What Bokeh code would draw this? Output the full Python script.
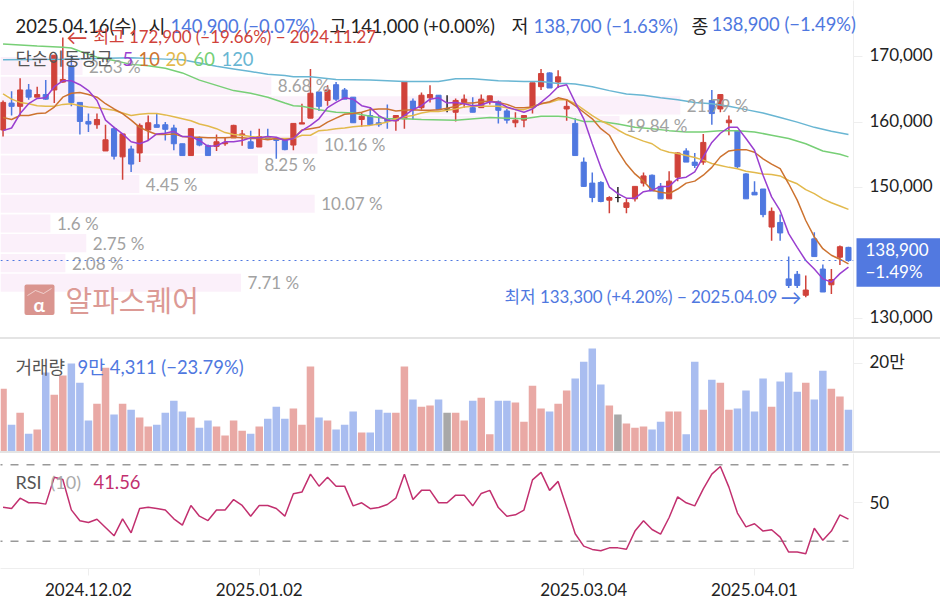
from bokeh.plotting import figure
from bokeh.layouts import column
from bokeh.core.properties import value
from bokeh.models import (Range1d, LinearAxis, FixedTicker, Label, Span, BoxAnnotation,
                          ColumnDataSource, Spacer, PolyAnnotation)
from bokeh.embed import file_html
from bokeh.resources import INLINE
import numpy as np

# ---- data (oldest bar first, 100 daily bars, last = 2025.04.16) ----
opens = [158800,162900,162400,164900,163800,164200,164900,166100,168600,163000,160100,159600,155600,159000,154700,155900,155300,158800,159600,159600,159100,156700,154900,157500,156400,156300,156700,157600,158000,157000,156200,157800,157500,157200,156500,
         159700,160600,164600,163300,165700,164900,163800,160400,161000,159900,160500,160200,160500,163200,162200,163700,164100,162000,161500,163000,162200,162200,163300,163100,161700,159900,160300,162200,165400,167500,166100,
         162000,159800,153900,150700,150800,148100,148500,147000,148300,150700,151900,150200,148300,151600,155600,153900,153900,163300,162000,159900,158700,152100,149300,149800,144000,144700,136100,136800,133600,142200,137600,135200,139400,140900]
highs = [163300,164700,166700,165800,165400,166400,170200,172900,170200,163000,161300,161300,159600,159300,158200,156400,159800,161000,161400,160000,159600,156700,159100,157800,156600,158100,157600,159600,158800,158700,159000,159000,157700,157500,159800,
         162800,168100,164600,165600,166100,165200,163800,161400,162300,160900,162700,161000,166200,163600,164500,165600,164100,164100,163600,164200,163800,164200,164000,163300,162000,161500,161000,166000,168100,167600,167900,
         163500,160600,154600,152300,151000,148700,150100,148300,150200,152300,152000,150700,152500,155400,156000,155300,158200,164900,164200,161000,158700,152200,151000,149800,147000,145900,139500,137300,136600,143200,138300,137600,141200,141000]
lows = [157800,161000,161000,163400,163800,163400,162900,166000,162400,158100,158500,159000,155600,154300,151200,152400,153900,157200,159200,157200,155700,154900,154900,156300,154900,155600,156400,157600,156400,156000,156200,157400,154400,155700,155700,
        159700,160600,161700,162500,163200,163500,159900,159300,159600,159300,159000,158700,159000,160400,161900,163000,161900,161500,160100,162200,161500,162200,162700,159800,159800,159200,159200,161300,164900,165200,165200,
        160200,154900,150100,147800,147800,146100,147800,146100,147900,150200,149500,148300,148300,151000,153900,153000,153500,159600,161500,158000,153000,148300,148900,145500,141900,141900,134700,134700,133300,139500,134100,133800,138200,138700]
closes = [163000,162400,164900,163800,164200,163500,170200,166500,163000,160100,159700,160400,157300,154800,158200,153600,159500,159900,159200,158900,156700,154900,159000,156500,154900,157000,156900,159500,158200,156000,157800,157500,157200,155800,159800,
          159900,164400,162400,164900,163500,163500,159900,160900,159600,159600,160100,161000,166200,161900,164100,164200,161900,162000,163300,163500,161500,163500,164000,161800,160300,160300,161000,166000,167400,165200,166900,
          162400,154900,150200,148500,147900,148500,148500,147700,150200,151800,149500,148300,151000,155300,153900,153400,156900,161300,164200,160300,153200,148300,148900,145900,146400,143100,135100,135100,134400,139500,134100,136000,141000,138900]
ma5 = [158700,159100,161300,162800,163600,163700,165400,166300,166300,165700,164800,163300,160300,159200,158200,157000,156700,157200,158200,158300,158600,157800,157800,157200,156300,156400,157000,157000,157200,157600,157600,157800,157700,157200,157500,
       158700,159500,160500,162200,163000,163700,163500,162500,162200,161000,160300,160200,161000,161900,162500,163500,163700,162900,163000,162800,162500,162600,163100,163000,162300,161900,161500,162000,163000,164100,165400,165700,
       163000,160500,156700,153100,150100,149100,148400,148400,149400,149600,150200,150200,151400,151600,152400,154700,156900,158300,159200,159200,157500,155700,151900,148600,146500,143000,140900,138900,137600,136100,135600,136900,137900]
ma10 = [160700,160400,161000,161000,161300,161400,162300,163800,164400,164500,164200,163800,162800,162000,161300,160300,159200,158600,158100,158100,158200,157800,157700,157700,157600,157600,157600,157700,157600,157500,157500,157300,157500,157300,157500,
        158800,159000,159200,160000,160600,161200,161300,161500,161900,162000,162000,161700,161800,161900,161800,161800,161900,162100,162400,162900,162900,163100,163200,163000,162700,162200,162200,162300,162800,163100,163700,163400,
        162500,161500,160500,159000,158000,155600,153600,152100,151000,149600,149300,149100,149800,150700,151000,151900,153100,154700,155600,155800,155800,155400,154400,153600,152900,150600,148100,145000,142500,140700,139700,139100,138400]
ma20 = [164300,163500,163000,162800,162500,162400,162400,162700,162800,162500,162300,162200,162000,161800,161400,161000,161200,161300,161300,161100,160800,160500,160200,159700,159400,159000,158400,158100,158000,157800,157700,157600,157500,157500,157500,
        158000,158000,158700,158800,159000,159100,159300,159400,159500,159700,160000,160500,160800,161000,161400,161600,161600,161800,162000,162300,162400,162400,162400,162400,162200,161900,161900,162300,162800,163000,163400,163400,
        162800,161900,161000,160200,159600,158800,158100,157600,157100,156700,155800,155400,155200,154900,154600,154200,153700,153400,153100,152900,152500,152300,152100,152000,151800,151100,150600,149700,149100,148300,147700,147200,146700]
ma60_back = [99,95,92,91,90,88,86,84,82,80,78,76,74,72,70,68,66,65,64,62,60,58,56,54,52,50,46,42,40,38,36,34,33,31,29,27,25,23,21,19,17,15,13,11,9,7,5,3,1,0]
ma60 = [171900,171600,171400,171300,170800,169900,169400,168800,168600,168200,167500,166400,165600,164800,164400,163800,162900,162500,162400,161900,161500,161400,160900,160500,160500,160400,160300,160700,160600,160500,160900,160900,160800,160100,160100,159700,159200,159000,158700,158500,158500,158700,158700,158500,158000,157500,156700,155600,155100,154700]
ma120_back = [99,92,84,80,78,76,74,72,70,68,66,65,63,60,56,52,48,46,44,41,38,36,34,33,32,30,28,26,24,22,20,18,16,14,12,10,8,6,4,2,0]
ma120 = [169500,169600,169800,169600,169500,169000,168500,168100,167700,167300,167100,166900,166900,166500,166400,166200,166200,166600,166600,166300,166200,166200,165900,165900,165800,165400,164800,164300,164100,163700,163400,163000,162800,162400,161900,161400,160700,160000,159200,158600,158100]
volumes = [141750,60320,87460,39960,49760,178700,128180,171910,199060,155320,70120,107820,189250,83690,107820,94250,76910,56550,60320,87460,114610,90480,76910,53530,70120,56550,36190,70120,46750,39960,56550,73890,101040,73890,97270,60320,192270,76910,70120,49760,60320,90480,42980,42980,94250,87460,87460,192270,117620,101040,104050,
           117620,87460,87460,70120,114610,121390,39210,114610,114610,110840,67110,148540,97270,90480,107820,137980,165130,202830,232990,151550,104050,83690,63340,53530,56550,49760,67110,90480,90480,39210,202830,94250,162110,155320,94250,97270,137980,90480,165130,101040,158340,178700,134970,155320,117620,182470,141750,124410,94311]
rsi = [47.8,47.1,52.5,50.1,50.1,49.4,63.5,62.3,46.4,40.7,39.8,41.5,37.2,32.8,41.7,34.4,47.1,47.8,47.1,46.3,41.7,38.4,48.7,43.1,40.8,46.3,46.3,51.8,48.7,43.1,48.7,48.7,47.1,43.1,54.8,55.7,65.1,58.8,63.5,58.8,58.8,48.5,50.1,47.0,47.6,49.2,52.5,65.1,51.8,56.6,56.6,
       50.1,50.1,54.1,54.1,48.5,55.0,56.6,47.6,43.1,43.8,46.3,62.1,66.0,56.6,61.3,47.8,33.9,27.4,25.7,25.0,26.5,26.5,25.8,35.3,40.7,36.1,33.7,42.4,53.2,50.1,48.5,57.4,65.1,69.1,58.3,44.7,37.5,39.1,35.3,36.0,32.1,24.3,24.3,23.4,36.8,30.5,35.3,43.8,41.56]
rsi_levels = [70, 30]
profile_pct = [2.63, 8.68, 21.79, 19.84, 10.16, 8.25, 4.45, 10.07, 1.6, 2.75, 2.08, 7.71]
profile_price = [168550,165550,162550,159550,156550,153550,150550,147550,144550,141550,138500,135500]
date_ticks = {10: "2024.12.02", 30: "2025.01.02", 68: "2025.03.04", 88: "2025.04.01"}
price_ticks = [130000, 150000, 160000, 170000]
last_tag = {140580: "138,900", 137225: "−1.49%"}

assert all(len(a) == 100 for a in (opens, highs, lows, closes, ma5, ma10, ma20, volumes, rsi))

# ---- style ----
RED, BLUE, BLACK = "#d0423a", "#4f78e0", "#222222"
VRED, VBLUE, VGRAY = "#e9a9a5", "#a9bdf0", "#a8a8a8"
MA_COL = {"5": "#9a3fd0", "10": "#cd7330", "20": "#e2b94c", "60": "#77cf76", "120": "#69b6d3"}
FONT = "Lato, 'Noto Sans CJK KR'"
AX = "#eeeeee"
TXT = "#222222"
W, RB = 940, 87
idx = np.arange(100)
xr = Range1d(-0.297, 99.59)

def make_fig(h, y0, y1, ticks, overrides, lift, bottom=0):
    f = figure(width=W, height=h, x_range=xr, y_range=Range1d(y0, y1), output_backend="svg",
               toolbar_location=None, min_border_left=0, min_border_right=RB,
               min_border_top=0, min_border_bottom=bottom, y_axis_location="right", tools="")
    f.outline_line_color = None
    f.grid.visible = False
    # inner axis: the axis line and tick marks
    ax = f.yaxis[0]
    ax.ticker = FixedTicker(ticks=ticks)
    ax.major_label_overrides = {t: "" for t in ticks}
    ax.major_label_standoff = 0
    ax.axis_line_color = AX
    ax.major_tick_line_color = AX
    ax.major_tick_in = 0
    ax.major_tick_out = 9
    ax.minor_tick_line_color = None
    # outer axis: the labels, which sit slightly above their ticks in the reference
    lab_ax = LinearAxis(ticker=FixedTicker(ticks=[t + lift for t in ticks]),
                        major_label_overrides={t + lift: overrides[t] for t in ticks},
                        major_label_text_font=FONT, major_label_text_font_size="17px",
                        major_label_text_color=TXT, axis_line_color=None, major_tick_line_color=None,
                        minor_tick_line_color=None, major_tick_in=0, major_tick_out=0, major_label_standoff=7)
    f.add_layout(lab_ax, "right")
    return f

def lab(f, bottom_px, text, x, y, color=TXT, size="18.4px", style="normal"):
    f.add_layout(Label(x=x, y=bottom_px - y, x_units="screen", y_units="screen", text=text,
                       text_color=color, text_font=FONT, text_font_size=size,
                       text_baseline="middle", text_font_style=style, level="annotation"))

# ---- price panel: page y 0..337 ----
p1 = make_fig(337, 127164, 178537, price_ticks, {t: f"{t:,}" for t in price_ticks}, 305)
p1.xaxis.visible = False
p1.extra_x_ranges = {"pct": Range1d(0, 853 / 31.2)}
P1B = 337

# last price tag: a wide tick mark on an outermost axis, with its two lines of text as that axis' labels
tag_value = 138559
tag_ax = LinearAxis(ticker=FixedTicker(ticks=list(last_tag), minor_ticks=[tag_value]),
                    major_label_overrides=last_tag,
                    major_label_text_font=FONT, major_label_text_font_size="17px",
                    major_label_text_color="white", axis_line_color=None, major_tick_line_color=None,
                    major_tick_in=0, major_tick_out=0, major_label_standoff=-78,
                    minor_tick_line_color="#5279e0", minor_tick_line_width=48.5,
                    minor_tick_in=79, minor_tick_out=8)
p1.add_layout(tag_ax, "right")
# the close in the header runs past the frame, so it is an axis label too (labels are not clipped)
close_ax = LinearAxis(ticker=FixedTicker(ticks=[175030]),
                      major_label_overrides={175030: "138,900 (−1.49%)"},
                      major_label_text_font=FONT, major_label_text_font_size="18.4px",
                      major_label_text_color=BLUE, axis_line_color=None, major_tick_line_color=None,
                      minor_tick_line_color=None, major_tick_in=0, major_tick_out=0, major_label_standoff=-224)
p1.add_layout(close_ax, "right")

p1.hbar(y=profile_price, height=2750, left=0, right=profile_pct, x_range_name="pct",
        color="#fbf0fa", line_color=None)
cols = [RED if c > o else BLUE if c < o else BLACK for o, c in zip(opens, closes)]
src = ColumnDataSource(dict(x=idx, o=opens, c=closes, h=highs, l=lows, col=cols,
                            top=np.maximum(opens, closes), bot=np.minimum(opens, closes)))
p1.segment("x", "h", "x", "l", source=src, color="col", line_width=1.5)
p1.vbar(x="x", top="top", bottom="bot", width=0.6, source=src, fill_color="col", line_color="col", line_width=1)
p1.line(99 - np.array(ma120_back), ma120, color=MA_COL["120"], line_width=1.5)
p1.line(99 - np.array(ma60_back), ma60, color=MA_COL["60"], line_width=1.5)
p1.line(idx, ma20, color=MA_COL["20"], line_width=1.5)
p1.line(idx, ma10, color=MA_COL["10"], line_width=1.5)
p1.line(idx, ma5, color=MA_COL["5"], line_width=1.5)
p1.add_layout(Span(location=closes[-1], dimension="width", line_color=BLUE, line_dash="dotted", line_width=1))
p1.text(x=profile_pct, y=profile_price, text=[f"{v} %" for v in profile_pct], x_range_name="pct",
        x_offset=6.5, text_baseline="middle", text_font=value(FONT), text_font_size="17px", text_color="#a2a2a2")

# header
lab(p1, P1B, "2025.04.16(수)", 15, 25)
lab(p1, P1B, "시", 148, 25)
lab(p1, P1B, "140,900 (−0.07%)", 170, 25, BLUE)
lab(p1, P1B, "고", 329, 25)
lab(p1, P1B, "141,000 (+0.00%)", 350, 25)
lab(p1, P1B, "저", 511, 25)
lab(p1, P1B, "138,700 (−1.63%)", 533, 25, BLUE)
lab(p1, P1B, "종", 691, 25)
lab(p1, P1B, "단순이동평균", 15, 58, "#555555", "17.6px")
for t, x in (("5", 122), ("10", 138), ("20", 165), ("60", 193), ("120", 221)):
    lab(p1, P1B, t, x, 58, MA_COL[t])
lab(p1, P1B, "←", 66, 36, RED, "21px")
lab(p1, P1B, "최고 172,900 (−19.66%) − 2024.11.27", 93, 36, RED, "16.9px")
lab(p1, P1B, "최저 133,300 (+4.20%) − 2025.04.09", 504, 296, BLUE, "16.9px")
lab(p1, P1B, "→", 780, 296, BLUE, "21px")

# watermark
p1.add_layout(BoxAnnotation(left=24, right=54, top=P1B - 284, bottom=P1B - 314.5,
                            left_units="screen", right_units="screen", top_units="screen", bottom_units="screen",
                            fill_color="#da958f", fill_alpha=1, line_color=None, border_radius=2, level="annotation"))
p1.add_layout(PolyAnnotation(xs=[27, 35, 43, 51, 43, 35], ys=[P1B - 295, P1B - 290, P1B - 293, P1B - 288, P1B - 293, P1B - 290],
                             xs_units="screen", ys_units="screen", fill_alpha=0, line_color="white", line_width=1, level="annotation"))
lab(p1, P1B, "α", 33, 304, "white", "19px", "bold")
lab(p1, P1B, "알파스퀘어", 65, 300, "#dc9a95", "29px")

# ---- volume panel: page y 339..451 ----
vcols = [VRED if c > o else VBLUE if c < o else VGRAY for o, c in zip(opens, closes)]
p2 = make_fig(112, 0, 253344, [200000], {200000: "20만"}, 4500)
p2.xaxis.visible = False
p2.vbar(x=idx, top=volumes, bottom=0, width=0.88, color=vcols, line_color=None)
lab(p2, 451, "거래량", 15, 366, "#555555", "18px")
lab(p2, 451, "9만 4,311 (−23.79%)", 77, 366, BLUE)

# ---- RSI panel: page y 453..568, dates to 604 ----
p3 = make_fig(151, 15.7, 75.9, [50], {50: "50"}, 0.5, bottom=36)
for lv in rsi_levels:
    p3.line([-1, idx[-1]], [lv, lv], color="#999999", line_width=1.5, line_dash=[8, 8])
p3.line(idx, rsi, color="#c2306f", line_width=1.5)
xa = p3.xaxis[0]
xa.ticker = FixedTicker(ticks=list(date_ticks))
xa.major_label_overrides = date_ticks
xa.major_label_text_font = FONT
xa.major_label_text_font_size = "17px"
xa.major_label_text_color = TXT
xa.axis_line_color = AX
xa.major_tick_line_color = AX
xa.major_tick_in = 0
xa.major_tick_out = 7
xa.minor_tick_line_color = None
xa.major_label_standoff = 7
lab(p3, 568, "RSI", 15, 481, "#555555", "18px")
lab(p3, 568, "(10)", 50, 481, "#aaaaaa", "18px")
lab(p3, 568, "41.56", 93, 481, "#c2306f")

sep1 = Spacer(width=W, height=2, styles={"background": "#e4e4e4"})
sep2 = Spacer(width=W, height=2, styles={"background": "#e4e4e4"})
page = column(p1, sep1, p2, sep2, p3, spacing=0)
open("out.html", "w").write(file_html(page, INLINE))
